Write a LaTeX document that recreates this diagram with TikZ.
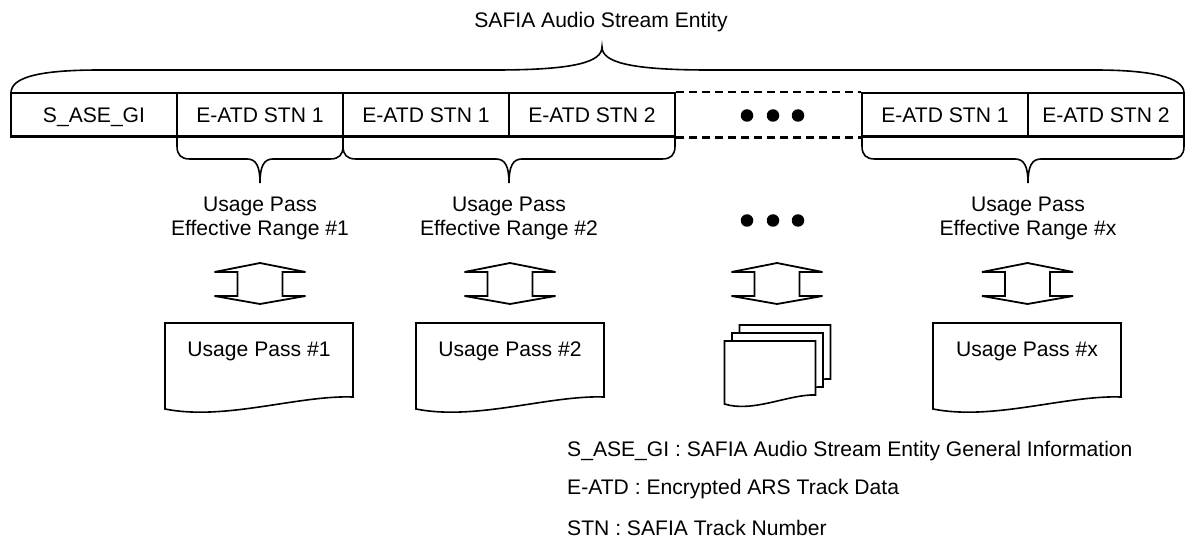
\documentclass[tikz,border=0pt]{standalone}
\usepackage{fontspec}
\setmainfont{Liberation Sans}
\newcommand\lowerbrace[3]{%
  \draw[brace] (#1,136.5) -- (#1,146) .. controls (#1,155) and ({#1+4},159) .. ({#1+13},159)
    -- ({#3-13},159) .. controls ({#3-4},159) and (#3,166) .. (#3,183)
    .. controls (#3,166) and ({#3+4},159) .. ({#3+13},159)
    -- ({#2-13},159) .. controls ({#2-4},159) and (#2,155) .. (#2,146) -- (#2,136.5);}
\begin{document}
\begin{tikzpicture}[x=1pt,y=-1pt,
  every node/.style={font=\fontsize{21.1}{23.5}\selectfont, inner sep=0pt},
  cell/.style={draw, line width=2.2pt, minimum height=43.5pt, anchor=center, text height=15pt, text depth=0pt},
  dashedrow/.style={line width=2.2pt, dash pattern=on 8pt off 5pt},
  brace/.style={draw, line width=1.6pt},
  blockarrow/.style={draw, line width=1.8pt, line join=miter},
  docshape/.style={draw, line width=1.6pt, fill=white},
  dot/.style={circle, fill=black, minimum size=12.5pt},
  legend/.style={anchor=west},
  updown/.pic={\draw[blockarrow] (0,-20.5) -- (45.5,-11.5) -- (22.5,-11.5) -- (22.5,12.5) -- (45.5,12.5) -- (0,20.5) -- (-45.5,12.5) -- (-22.5,12.5) -- (-22.5,-11.5) -- (-45.5,-11.5) -- cycle;}]
\useasboundingbox (0,0) rectangle (1185,545);

% title and top brace
\node (title) at (601,22) {SAFIA Audio Stream Entity};
\draw[brace] (11,93) .. controls (11,77) and (40,70) .. (100,70) -- (495,70)
  .. controls (575,70) and (602,62) .. (602,47)
  .. controls (602,62) and (629,70) .. (709,70) -- (1095,70)
  .. controls (1150,70) and (1184,77) .. (1184,93);

% row of cells
\node[cell, minimum width=166pt] (c1) at (94,114.75) {S\_ASE\_GI};
\node[cell, minimum width=166pt] (c2) at (260,114.75) {E-ATD STN 1};
\node[cell, minimum width=166pt] (c3) at (426,114.75) {E-ATD STN 1};
\node[cell, minimum width=166pt] (c4) at (592,114.75) {E-ATD STN 2};
\node[cell, minimum width=166pt] (c6) at (945,114.75) {E-ATD STN 1};
\node[cell, minimum width=156pt] (c7) at (1106,114.75) {E-ATD STN 2};
\draw[dashedrow] (c4.north east) -- (c6.north west);
\draw[dashedrow] (c4.south east) -- (c6.south west);
\node[dot] (d1) at (747,115.5) {};
\node[dot] (d2) at (773,115.5) {};
\node[dot] (d3) at (798,115.5) {};

% lower braces
\lowerbrace{177}{343}{260}
\lowerbrace{343}{675}{509}
\lowerbrace{862}{1184}{1028}

% range labels
\node[align=center] (r1) at (260,218.5) {Usage Pass\\Effective Range \#1};
\node[align=center] (r2) at (509,218.5) {Usage Pass\\Effective Range \#2};
\node[align=center] (rx) at (1028,218.5) {Usage Pass\\Effective Range \#x};
\node[dot] (e1) at (747,220.5) {};
\node[dot] (e2) at (773,220.5) {};
\node[dot] (e3) at (798,220.5) {};

% block arrows
\pic (a1) at (260,283.5) {updown};
\pic (a2) at (510,283.5) {updown};
\pic (a3) at (777,283.5) {updown};
\pic (a4) at (1027.5,283.5) {updown};

% documents
\draw[docshape] (165,323) -- (353,323) -- (353,397) .. controls (298,395) and (225,421) .. (165,409) -- cycle;
\node (u1) at (259,351) {Usage Pass \#1};
\draw[docshape] (416,323) -- (604,323) -- (604,397) .. controls (549,395) and (476,421) .. (416,409) -- cycle;
\node (u2) at (510,351) {Usage Pass \#2};
\draw[docshape] (933,323) -- (1121,323) -- (1121,397) .. controls (1066,395) and (993,421) .. (933,409) -- cycle;
\node (ux) at (1027,351) {Usage Pass \#x};

% stacked documents
\draw[docshape] (739.5,325) -- (830.5,325) -- (830.5,379) .. controls (804,378) and (768,397) .. (739.5,388) -- cycle;
\draw[docshape] (732,333) -- (823,333) -- (823,387) .. controls (796.5,386) and (760.5,405) .. (732,396) -- cycle;
\draw[docshape] (724.5,341) -- (815.5,341) -- (815.5,395) .. controls (789,394) and (753,413) .. (724.5,404) -- cycle;

% legend
\node[legend] (l1) at (567,451) {S\_ASE\_GI : SAFIA Audio Stream Entity General Information};
\node[legend] (l2) at (567,489.5) {E-ATD : Encrypted ARS Track Data};
\node[legend] (l3) at (567,528) {STN : SAFIA Track Number};
\end{tikzpicture}
\end{document}
